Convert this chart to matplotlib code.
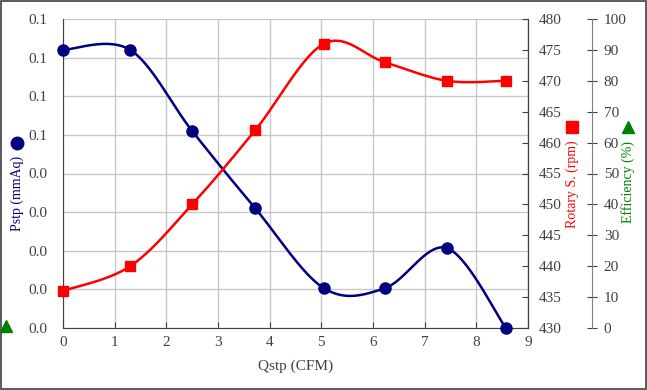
import numpy as np
import matplotlib.pyplot as plt
from matplotlib.lines import Line2D

plt.rcParams['font.family'] = ['Liberation Serif', 'DejaVu Serif']

qstp = [0.0, 1.30, 2.50, 3.72, 5.05, 6.23, 7.43, 8.57]
pstp = [0.072, 0.072, 0.051, 0.031, 0.0103, 0.0103, 0.0207, 0.0]
rotary = [436, 440, 450, 462, 476, 473, 470, 470]
efficiency = []

left_ticks = np.arange(0, 0.081, 0.01)
left_labels = ['0.0', '0.0', '0.0', '0.0', '0.0', '0.1', '0.1', '0.1', '0.1']


def smooth(x, y, n=40):
    # excel style smoothed line (catmull-rom as bezier)
    x = np.asarray(x, float)
    y = np.asarray(y, float)
    px = np.concatenate([[x[0]], x, [x[-1]]])
    py = np.concatenate([[y[0]], y, [y[-1]]])
    xs, ys = [], []
    t = np.linspace(0, 1, n)
    for i in range(1, len(px) - 2):
        p0 = np.array([px[i], py[i]])
        p3 = np.array([px[i + 1], py[i + 1]])
        c1 = p0 + (np.array([px[i + 1], py[i + 1]]) - np.array([px[i - 1], py[i - 1]])) / 6
        c2 = p3 - (np.array([px[i + 2], py[i + 2]]) - np.array([px[i], py[i]])) / 6
        b = ((1 - t) ** 3)[:, None] * p0 + (3 * (1 - t) ** 2 * t)[:, None] * c1 \
            + (3 * (1 - t) * t ** 2)[:, None] * c2 + (t ** 3)[:, None] * p3
        xs.extend(b[:, 0])
        ys.extend(b[:, 1])
    return xs, ys


tick_col = '#404040'
navy = '#000080'
fs = 11
title_fs = 10

fig = plt.figure(figsize=(6.47, 3.90), dpi=100)
ax = fig.add_axes([63 / 647, 1 - 328 / 390, 465 / 647, 309 / 390])
ax2 = ax.twinx()
ax3 = ax.twinx()

ax.set_xlim(0, 9)
ax.set_ylim(0, 0.08)
ax.set_xticks(range(10))
ax.set_yticks(left_ticks)
ax.set_yticklabels(left_labels)
ax.grid(True, color='#c8c8c8', linewidth=1)
ax.set_axisbelow(True)
ax.tick_params(axis='y', length=0, pad=11, labelsize=fs, colors=tick_col)
ax.tick_params(axis='x', direction='in', length=4, pad=6, labelsize=fs,
               colors=tick_col)
ax.spines['top'].set_visible(False)
ax.spines['left'].set_color('#404040')
ax.spines['bottom'].set_color('#404040')

ax2.set_ylim(430, 480)
ax2.set_yticks(range(430, 481, 5))
ax2.tick_params(axis='y', direction='in', length=4, pad=8, labelsize=fs,
                colors=tick_col)
ax2.spines['right'].set_color('#404040')
for s in ['top', 'left', 'bottom']:
    ax2.spines[s].set_visible(False)

ax3.set_ylim(0, 100)
ax3.set_yticks(range(0, 101, 10))
ax3.spines['right'].set_position(('axes', (592 - 63) / 465))
ax3.spines['right'].set_color('#808080')
ax3.tick_params(axis='y', direction='inout', length=7, pad=5, labelsize=fs,
                colors=tick_col)
for s in ['top', 'left', 'bottom']:
    ax3.spines[s].set_visible(False)

sx, sy = smooth(qstp, rotary)
ax2.plot(sx, sy, color='red', linewidth=1.8, clip_on=False)
ax2.plot(qstp, rotary, 's', color='red', markersize=7.5, clip_on=False)

sx, sy = smooth(qstp, pstp)
ax.plot(sx, sy, color=navy, linewidth=1.8, clip_on=False, zorder=3)
ax.plot(qstp, pstp, 'o', color=navy, markersize=8, clip_on=False, zorder=3)
ax3.plot(qstp[:len(efficiency)], efficiency, '^', color='green')

ax.set_xlabel('Qstp (CFM)', fontsize=fs, color=tick_col, labelpad=7)

fig.text(17 / 647, 1 - 193 / 390, 'Pstp (mmAq)', rotation=90, color=navy,
         fontsize=title_fs, ha='center', va='center')
fig.text(572 / 647, 1 - 184 / 390, 'Rotary S. (rpm)', rotation=90, color='red',
         fontsize=title_fs, ha='center', va='center')
fig.text(628 / 647, 1 - 182 / 390, 'Efficiency (%)', rotation=90,
         color='green', fontsize=title_fs, ha='center', va='center')

# legend keys next to the axis titles
fig.add_artist(Line2D([17 / 647], [1 - 143 / 390], marker='o', color=navy,
                      markersize=9, transform=fig.transFigure))
fig.add_artist(Line2D([572 / 647], [1 - 127 / 390], marker='s', color='red',
                      markersize=9, transform=fig.transFigure))
fig.add_artist(Line2D([628 / 647], [1 - 127 / 390], marker='^', color='green',
                      markersize=9, transform=fig.transFigure))
fig.add_artist(Line2D([6 / 647], [1 - 326 / 390], marker='^', color='green',
                      markersize=8, transform=fig.transFigure))

# chart border
fig.add_artist(plt.Rectangle((0.001, 0.002), 0.997, 0.995, fill=False,
                             edgecolor='#404040', linewidth=1.2,
                             transform=fig.transFigure))

fig.savefig('out.png', dpi=100)
